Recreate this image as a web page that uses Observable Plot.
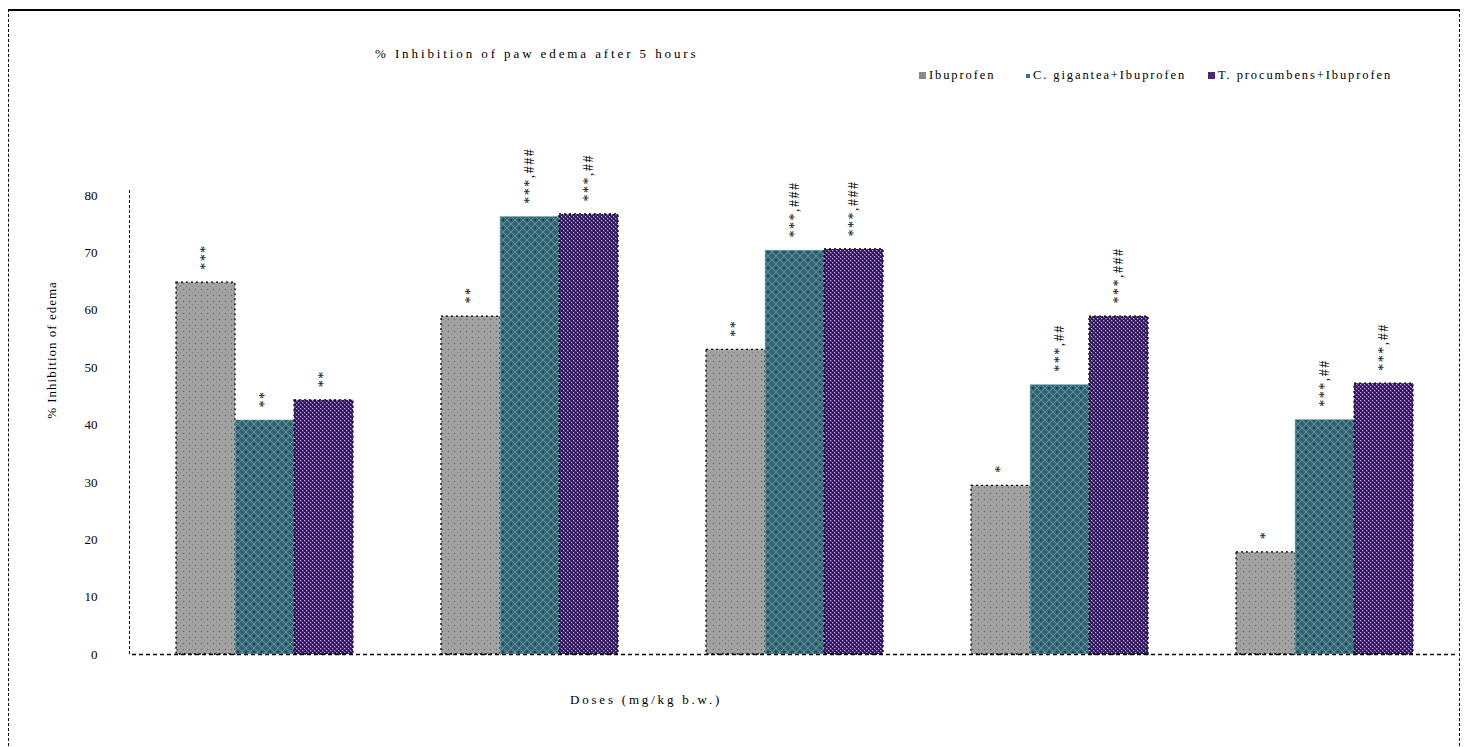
<!DOCTYPE html>
<html><head><meta charset="utf-8">
<script src="https://cdn.jsdelivr.net/npm/d3@7"></script>
<script src="https://cdn.jsdelivr.net/npm/@observablehq/plot@0.6"></script>
<style>
body{margin:0;background:#fff;font-family:"Liberation Serif",serif;color:#000;}
#wrap{position:relative;width:1470px;height:747px;overflow:hidden;}
#frame{position:absolute;left:8px;top:9px;width:1450px;height:760px;border-left:1.5px dashed #000;border-right:1.5px dashed #000;border-top:2px solid #000;}
#chart{position:absolute;left:0;top:0;}
#yline{position:absolute;left:129px;top:190px;height:464px;border-left:1.5px dashed #000;}
.t{position:absolute;white-space:nowrap;font-size:13px;}
#title{left:375px;top:46px;letter-spacing:2.9px;}
#xlabel{left:570px;top:692px;letter-spacing:2.8px;}
#ylabel{left:52px;top:350px;transform:translate(-50%,-50%) rotate(-90deg);letter-spacing:1px;}
.leg{position:absolute;top:68px;font-size:12.5px;letter-spacing:1.9px;white-space:nowrap;display:flex;align-items:center;}
.leg span.sw{display:inline-block;width:7px;height:7px;margin-right:3px;}
#chart g[aria-label="text"] text{letter-spacing:1.5px;}
</style></head>
<body><div id="wrap">
<div id="frame"></div>
<div id="chart"></div>
<div id="yline"></div>
<div class="t" id="title">% Inhibition of paw edema after 5 hours</div>
<div class="t" id="xlabel">Doses (mg/kg b.w.)</div>
<div class="t" id="ylabel">% Inhibition of edema</div>
</div>
<script>
const groups = ["Dose 1", "Dose 2", "Dose 3", "Dose 4", "Dose 5"];
const seriesNames = ["Ibuprofen", "C. gigantea+Ibuprofen", "T. procumbens+Ibuprofen"];
const ibuprofen = [64.8, 58.9, 53.1, 29.4, 17.8];
const gigantea = [40.8, 76.3, 70.4, 47.0, 40.9];
const procumbens = [44.3, 76.7, 70.6, 58.9, 47.2];
const ibuprofenLabels = ["***", "**", "**", "*", "*"];
const giganteaLabels = ["**", "***,###", "***,###", "***,##", "***,##"];
const procumbensLabels = ["**", "***,##", "***,###", "***,###", "***,##"];
const yTicks = [0, 10, 20, 30, 40, 50, 60, 70, 80];

const valueSets = [ibuprofen, gigantea, procumbens];
const labelSets = [ibuprofenLabels, giganteaLabels, procumbensLabels];
const rows = [];
groups.forEach((g, gi) => seriesNames.forEach((s, si) => {
  rows.push({group: g, series: s, value: valueSets[si][gi], label: labelSets[si][gi]});
}));

const fills = ["url(#pGray)", "url(#pTeal)", "url(#pPurple)"];
const strokes = [
  {stroke: "#000", strokeDasharray: "2,3", strokeWidth: 1.3},
  {stroke: "#8fd0d8", strokeWidth: 0.6},
  {stroke: "#000", strokeDasharray: "2,3", strokeWidth: 1.3}
];

const chart = Plot.plot({
  width: 1470, height: 747,
  marginLeft: 130, marginRight: 12, marginTop: 195, marginBottom: 93,
  style: {fontFamily: "Liberation Serif", fontSize: "13px", background: "transparent", overflow: "visible"},
  facet: {data: rows, x: "group"},
  fx: {axis: null, padding: 0, domain: groups},
  x: {axis: null, domain: seriesNames, paddingInner: 0, paddingOuter: 0.72},
  y: {domain: [0, 80], ticks: yTicks, tickSize: 0, tickPadding: 35, label: null},
  marks: [
    ...seriesNames.map((s, i) => Plot.barY(rows, {
      filter: d => d.series === s, x: "series", y: "value", fill: fills[i], ...strokes[i]
    })),
    Plot.text(rows, {x: "series", y: "value", text: "label", rotate: -90, textAnchor: "start", dy: -13, fontSize: 14, fill: "#000"}),
    Plot.ruleY([0], {stroke: "#000", strokeDasharray: "4,3", strokeWidth: 1.3})
  ]
});

chart.insertAdjacentHTML("afterbegin", `<defs>
<pattern id="pGray" width="6" height="6" patternUnits="userSpaceOnUse">
<rect width="6" height="6" fill="#a2a2a2"/><circle cx="1.5" cy="1.5" r="0.8" fill="#6a6a6a"/><circle cx="4.5" cy="4.5" r="0.6" fill="#7c7c7c"/>
</pattern>
<pattern id="pTeal" width="8" height="8" patternUnits="userSpaceOnUse">
<rect width="8" height="8" fill="#3a6776"/>
<path d="M0,4 L4,0 L8,4 L4,8 Z" fill="none" stroke="#55939a" stroke-width="1"/>
<circle cx="4" cy="4" r="1" fill="#1d3550"/><circle cx="0" cy="0" r="1" fill="#233c5a"/><circle cx="8" cy="8" r="1" fill="#233c5a"/>
</pattern>
<pattern id="pPurple" width="4" height="4" patternUnits="userSpaceOnUse">
<rect width="4" height="4" fill="#5c3a8a"/><rect width="2" height="2" fill="#2a1850"/><rect x="2" y="2" width="2" height="2" fill="#2a1850"/>
<rect x="2" y="0" width="1" height="1" fill="#c090ee"/><rect x="0" y="2" width="1" height="1" fill="#c090ee"/>
</pattern>
</defs>`);
document.getElementById("chart").appendChild(chart);

const swatchColors = ["#8a8a8a", "#3d7090", "#4a2a7a"];
const legendLefts = [919, 1026, 1208];
const wrap = document.getElementById("wrap");
seriesNames.forEach((s, i) => {
  const item = document.createElement("div");
  item.className = "leg";
  item.style.left = legendLefts[i] + "px";
  const sw = document.createElement("span");
  sw.className = "sw";
  sw.style.background = swatchColors[i];
  if (i === 1) { sw.style.width = "4px"; sw.style.height = "4px"; }
  item.appendChild(sw);
  item.appendChild(document.createTextNode(s));
  wrap.appendChild(item);
});
</script>
</body></html>
